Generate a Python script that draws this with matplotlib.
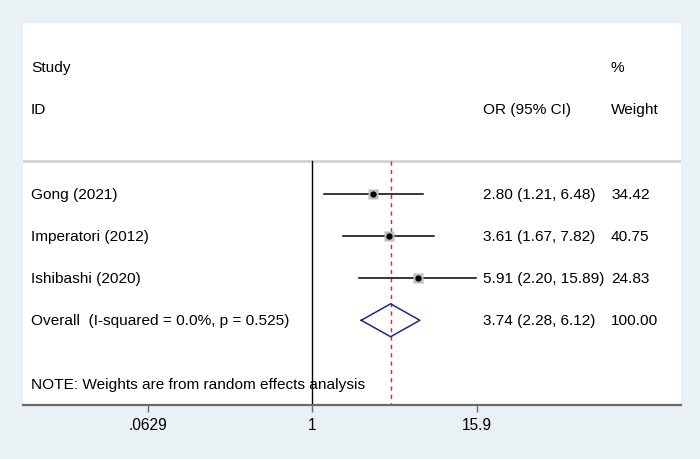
import numpy as np
import matplotlib.pyplot as plt
import matplotlib.transforms as mtransforms

plt.rcParams['font.family'] = ['Liberation Sans', 'DejaVu Sans']

# данные исследований
studies = ["Gong (2021)", "Imperatori (2012)", "Ishibashi (2020)"]
or_val = [2.80, 3.61, 5.91]
ci_low = [1.21, 1.67, 2.20]
ci_high = [6.48, 7.82, 15.89]
weights = [34.42, 40.75, 24.83]

# итоговая оценка
overall_label = "Overall  (I-squared = 0.0%, p = 0.525)"
overall = [3.74, 2.28, 6.12]

tick_vals = [0.0629, 1, 15.9]
tick_labels = [".0629", "1", "15.9"]

fig = plt.figure(figsize=(7, 4.6), dpi=100)
fig.patch.set_facecolor('#e9f1f4')

# белая область графика
ax = fig.add_axes([23 / 700, 1 - 405.7 / 460, 658 / 700, 381.7 / 460])
ax.set_facecolor('white')
ax.set_xscale('log')
ax.set_xlim(np.exp(-4.874), np.exp(6.211))
ax.set_ylim(8.0, -1.043)

for s in ['top', 'left', 'right']:
    ax.spines[s].set_visible(False)
ax.spines['bottom'].set_color('#6a6a6a')
ax.spines['bottom'].set_linewidth(1.6)

ax.set_xticks(tick_vals)
ax.set_xticklabels(tick_labels)
ax.xaxis.set_minor_locator(plt.NullLocator())
ax.tick_params(axis='x', length=5, width=1, color='#6a6a6a', labelsize=11.2, pad=4)
ax.set_yticks([])

fs = 11.1
tr = mtransforms.blended_transform_factory(ax.transAxes, ax.transData)
x_lab = (31 - 23) / 658
x_or = (483 - 23) / 658
x_w = (611 - 23) / 658

# заголовки
ax.text(x_lab, 0, "Study", transform=tr, fontsize=fs, va='center')
ax.text(x_lab, 1, "ID", transform=tr, fontsize=fs, va='center')
ax.text(x_w, 0, "%", transform=tr, fontsize=fs, va='center')
ax.text(x_w, 1, "Weight", transform=tr, fontsize=fs, va='center')
ax.text(x_or, 1, "OR (95% CI)", transform=tr, fontsize=fs, va='center')

# серая разделительная линия
ax.axhline(2.23, color='#d4d4d4', lw=2)

# вертикальные линии
ax.plot([1, 1], [2.23, 8.0], color='black', lw=1)
ax.plot([overall[0], overall[0]], [2.23, 8.0], color='#d42a3c', lw=1, ls=(0, (3, 3)))

rows = [3, 4, 5]
for i in range(len(studies)):
    y = rows[i]
    ax.plot([ci_low[i], ci_high[i]], [y, y], color='black', lw=1.1)
    ax.plot(or_val[i], y, marker='s', ms=6.5, color='#bdbdbd', mec='none')
    ax.plot(or_val[i], y, marker='o', ms=3.5, color='black')
    ax.text(x_lab, y, studies[i], transform=tr, fontsize=fs, va='center')
    ax.text(x_or, y, "%.2f (%.2f, %.2f)" % (or_val[i], ci_low[i], ci_high[i]),
            transform=tr, fontsize=fs, va='center')
    ax.text(x_w, y, "%.2f" % weights[i], transform=tr, fontsize=fs, va='center')

# ромб для итоговой оценки
y = 6
h = 0.39
dx = [overall[1], overall[0], overall[2], overall[0], overall[1]]
dy = [y, y - h, y, y + h, y]
ax.plot(dx, dy, color='#1c2a8c', lw=1.1)
ax.text(x_lab, y, overall_label, transform=tr, fontsize=fs, va='center')
ax.text(x_or, y, "%.2f (%.2f, %.2f)" % tuple(overall), transform=tr, fontsize=fs, va='center')
ax.text(x_w, y, "100.00", transform=tr, fontsize=fs, va='center')

ax.text(x_lab, 7.52, "NOTE: Weights are from random effects analysis",
        transform=tr, fontsize=fs, va='center')

fig.savefig("out.png", dpi=100, facecolor=fig.get_facecolor())
